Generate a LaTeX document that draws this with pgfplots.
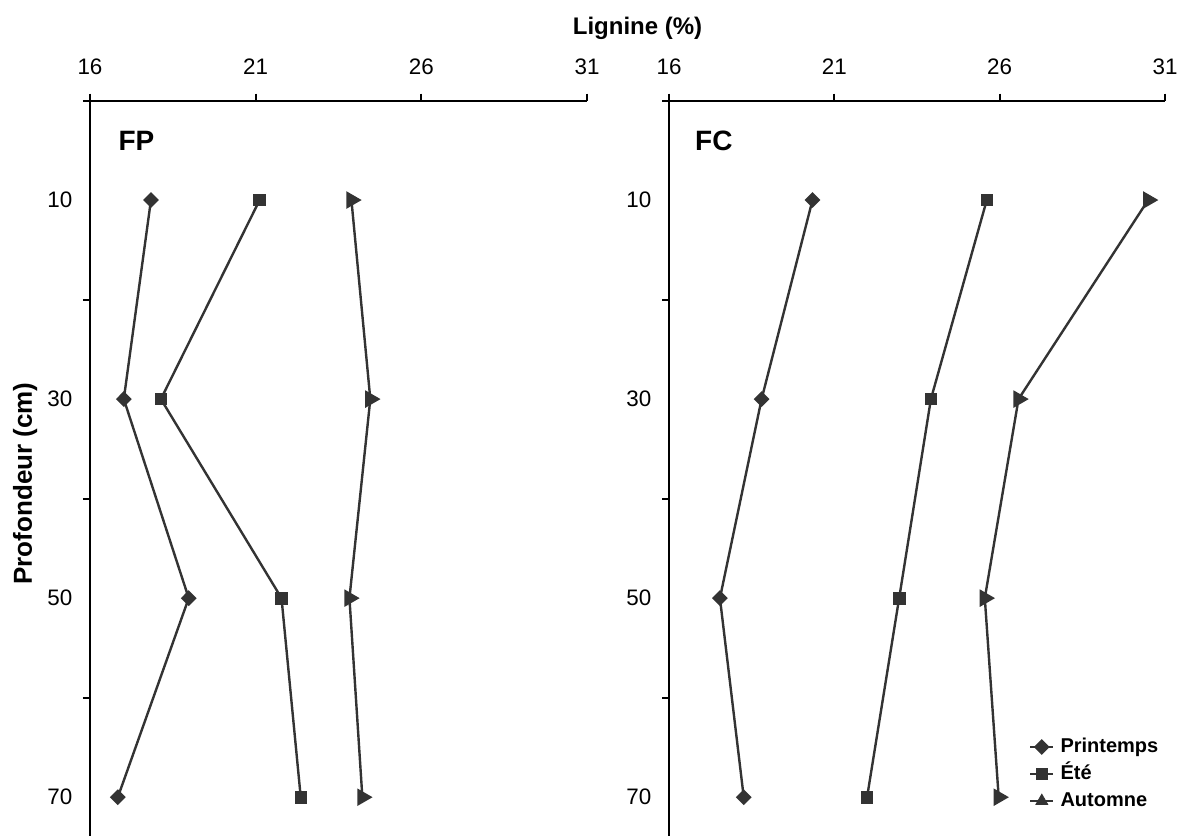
\documentclass[border=0pt]{standalone}
\usepackage{fontspec}
\setmainfont{Liberation Sans}
\usepackage{pgfplots}
\pgfplotsset{compat=1.18}

\definecolor{serie}{HTML}{333333}
\newcommand\ticksize{\fontsize{11.2}{13}\selectfont}

\pgfplotsset{
  profil/.style={
    scale only axis,
    width=248.5pt, height=367.75pt,
    xmin=16, xmax=31, ymin=0, ymax=73.9,
    y dir=reverse,
    axis x line=top, axis y line=left,
    x axis line style={-, line width=1pt},
    y axis line style={-, line width=1pt},
    xtick={16,21,26,31},
    ytick={0,20,40,60}, yticklabels={},
    extra y ticks={10,30,50,70},
    extra y tick labels={10,30,50,70},
    extra y tick style={tick style={draw=none}},
    tick align=outside,
    major tick length=3.5pt,
    tick style={black, line width=1pt},
    tick label style={font=\ticksize},
    yticklabel style={xshift=-1.8pt},
    xticklabel style={yshift=6pt},
    /pgf/number format/assume math mode=true,
    clip=false,
  },
  lig/.style={serie, line width=1.2pt, mark options={solid, fill=serie, draw=serie, line width=0.4pt}},
  printemps/.style={lig, mark=diamond*, mark size=3.1pt, mark options={xscale=1.33}},
  ete/.style={lig, mark=square*, mark size=2.9pt},
  automne/.style={lig, mark=triangle*, mark size=3.9pt, mark options={rotate=-90}},
}

% lignin content (%) by depth (cm), three seasons
\pgfplotstableread{
prof  printemps  ete    automne
10    17.84      21.12  23.89
30    17.02      18.14  24.46
50    18.98      21.78  23.83
70    16.84      22.36  24.22
}\FP
\pgfplotstableread{
prof  printemps  ete    automne
10    20.34      25.61  30.49
30    18.80      23.92  26.57
50    17.54      22.96  25.55
70    18.26      21.99  25.97
}\FC

\begin{document}
\begin{tikzpicture}
\useasboundingbox (0,0) rectangle (590.5pt,418pt);

% left panel: FP
\begin{axis}[profil, at={(45pt,367.75pt)}, anchor=north west]
  \addplot[printemps] table[x=printemps, y=prof] {\FP};
  \addplot[ete]       table[x=ete,       y=prof] {\FP};
  \addplot[automne]   table[x=automne,   y=prof] {\FP};
  \node[anchor=base west, inner sep=0pt, font=\bfseries\fontsize{14}{16}\selectfont]
    at (axis cs:16.85,5) {FP};
\end{axis}

% right panel: FC
\begin{axis}[profil, at={(334.5pt,367.75pt)}, anchor=north west, width=248pt,
  legend cell align=left,
  legend image code/.code={%
    \draw[mark repeat=2, mark phase=2, #1]
      plot coordinates {(0pt,0pt) (5.75pt,0pt) (11.5pt,0pt)};},
  legend style={at={(axis cs:26.89,63.9)}, anchor=north west,
    draw=none, fill=none, inner sep=0pt, outer sep=0pt,
    row sep=3pt, column sep=3pt,
    font=\bfseries\fontsize{10}{12}\selectfont,
    nodes={inner sep=0pt, text height=8pt, text depth=2.5pt}},
]
  \addplot[printemps, forget plot] table[x=printemps, y=prof] {\FC};
  \addplot[ete,       forget plot] table[x=ete,       y=prof] {\FC};
  \addplot[automne,   forget plot] table[x=automne,   y=prof] {\FC};
  \addlegendimage{printemps}
  \addlegendentry{Printemps}
  \addlegendimage{ete}
  \addlegendentry{Été}
  \addlegendimage{lig, mark=triangle*, mark size=3.4pt}
  \addlegendentry{Automne}
  \node[anchor=base west, inner sep=0pt, font=\bfseries\fontsize{14}{16}\selectfont]
    at (axis cs:16.78,5) {FC};
\end{axis}

% shared titles
\node[anchor=base, inner sep=0pt, font=\bfseries\fontsize{12}{14}\selectfont]
  at (318.75pt,400.5pt) {Lignine (\%)};
\node[anchor=base, rotate=90, inner sep=0pt, font=\bfseries\fontsize{13}{15}\selectfont]
  at (16pt,176.25pt) {Profondeur (cm)};
\end{tikzpicture}
\end{document}
